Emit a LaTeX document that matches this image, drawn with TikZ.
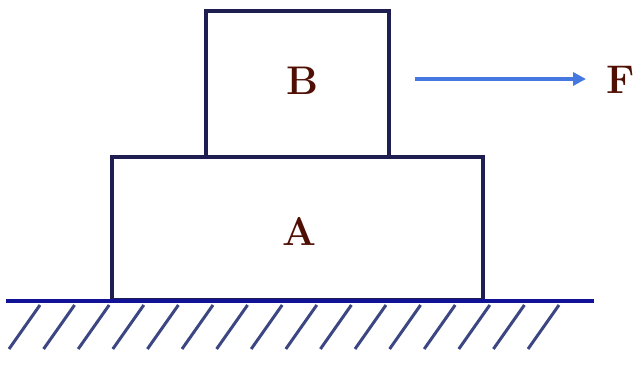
\documentclass[tikz,border=0pt]{standalone}
\usetikzlibrary{arrows.meta}
\definecolor{edgecol}{RGB}{30,30,80}
\definecolor{arrowcol}{RGB}{70,120,225}
\definecolor{labelcol}{RGB}{80,15,5}
\definecolor{hatchcol}{RGB}{60,70,130}
\tikzset{
  block/.style={draw=edgecol,line width=3.5pt,line join=miter},
  blocklabel/.style={text=labelcol,font=\fontsize{40}{40}\selectfont\bfseries,inner sep=0pt},
  groundline/.style={draw=edgecol!60!blue,line width=4.5pt},
  hatch/.style={draw=hatchcol,line width=3pt},
  force/.style={draw=arrowcol,line width=3.5pt,-{Triangle[length=13pt,width=13pt]}}
}
\begin{document}
\begin{tikzpicture}[x=1pt,y=-1pt]
\useasboundingbox (0,0) rectangle (637,366);
\coordinate (Atl) at (112,157);
\coordinate (Abr) at (483,300);
\coordinate (Btl) at (206,11);
\coordinate (Bbr) at (389,157);
\draw[block] (Atl) rectangle (Abr);
\draw[block] (Btl) rectangle (Bbr);
\node[blocklabel] (B) at (302,81) {B};
\node[blocklabel] (A) at (299,231) {A};
\coordinate (g1) at (6,301);
\coordinate (g2) at (594,301);
\draw[groundline] (g1) -- (g2);
\foreach \i in {0,...,15}{
  \draw[hatch] ({40+34.6*\i},305) -- ({40+34.6*\i-31},349);
}
\coordinate (f0) at (415,79);
\coordinate (f1) at (586,79);
\draw[force] (f0) -- (f1);
\node[blocklabel,anchor=east] (F) at (635,80) {F};
\end{tikzpicture}
\end{document}
